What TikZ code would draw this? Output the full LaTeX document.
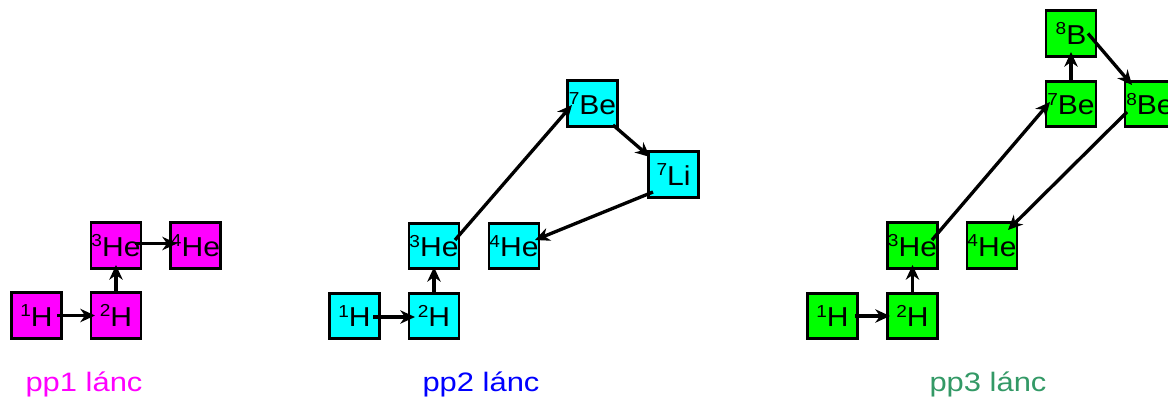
\documentclass[tikz,border=0pt]{standalone}
\usepackage{fontspec}
\setmainfont{Liberation Sans}
\usetikzlibrary{arrows.meta,calc}
\definecolor{ppone}{HTML}{FF00FF}
\definecolor{pptwo}{HTML}{0000FF}
\definecolor{ppthree}{HTML}{339966}
\definecolor{boxone}{HTML}{FF00FF}
\definecolor{boxtwo}{HTML}{00FFFF}
\definecolor{boxthree}{HTML}{00FF00}
\newcommand\iso[2]{\scalebox{1.1}[1]{\raisebox{7pt}{\fontsize{13}{13}\selectfont #1}#2}}
\newcommand\wide[1]{\scalebox{1.16}[1]{#1}}
\begin{document}
\begin{tikzpicture}[x=0.75pt,y=-0.75pt,
  nuc/.style={draw=black,line width=2.1pt,minimum width=37.5pt,minimum height=34pt,inner sep=0pt,
    font=\fontsize{20.5}{21}\selectfont},
  n1/.style={nuc,fill=boxone},
  n2/.style={nuc,fill=boxtwo},
  n3/.style={nuc,fill=boxthree},
  rx/.style={line width=2.5pt,-{Stealth[length=11pt,width=10pt,inset=3.5pt]}},
  lab/.style={font=\fontsize{20}{22}\selectfont,anchor=base}]
\useasboundingbox (0,0) rectangle (1168,397);
% pp1
\node[n1] (a1) at (36.5,315.5) {\iso{1}{H}};
\node[n1] (a2) at (116,315.5) {\iso{2}{H}};
\node[n1] (a3) at (116,245.5) {\iso{3}{He}};
\node[n1] (a4) at (195.5,245.5) {\iso{4}{He}};
\draw[rx] ($(a1)+(20.5,0)$) -- ($(a2)+(-21,0)$);
\draw[rx] (a2.north) -- ($(a3)+(0,19.5)$);
\draw[rx] ($(a3)+(19,-2)$) -- ($(a4)+(-18.5,-2)$);
\node[lab,text=ppone] (l1) at (84,391) {\wide{pp1 lánc}};
% pp2
\node[n2] (b1) at (354.5,316) {\iso{1}{H}};
\node[n2] (b2) at (434,316) {\iso{2}{H}};
\node[n2] (b3) at (434,246) {\iso{3}{He}};
\node[n2] (b4) at (514,246) {\iso{4}{He}};
\node[n2] (b5) at (592.5,103.5) {\iso{7}{Be}};
\node[n2] (b6) at (673.5,174.5) {\iso{7}{Li}};
\draw[rx] ($(b1)+(18.5,1)$) -- ($(b2)+(-19,1)$);
\draw[rx] (b2.north) -- ($(b3)+(0,21)$);
\draw[rx] ($(b3)+(21,-6)$) -- ($(b5)+(-20.5,1.5)$);
\draw[rx] ($(b5)+(20.5,21.5)$) -- ($(b6)+(-23.5,-17.5)$);
\draw[rx] ($(b6)+(-20.5,17.5)$) -- ($(b4)+(21,-6)$);
\node[lab,text=pptwo] (l2) at (481,391) {\wide{pp2 lánc}};
% pp3
\node[n3] (c1) at (832.5,316) {\iso{1}{H}};
\node[n3] (c2) at (912.5,316) {\iso{2}{H}};
\node[n3] (c3) at (912.5,245.5) {\iso{3}{He}};
\node[n3] (c4) at (992,245.5) {\iso{4}{He}};
\node[n3] (c5) at (1071,104) {\iso{7}{Be}};
\node[n3] (c6) at (1071,33.5) {\iso{8}{B}};
\node[n3] (c7) at (1150,104) {\iso{8}{Be}};
\draw[rx] ($(c1)+(22.5,0)$) -- ($(c2)+(-22.5,0)$);
\draw[rx] (c2.north) -- ($(c3)+(0,19.5)$);
\draw[rx] ($(c3)+(19.5,-5.5)$) -- ($(c5)+(-21,-2)$);
\draw[rx] (c5.north) -- ($(c6)+(0,18.5)$);
\draw[rx] ($(c6)+(17,0)$) -- ($(c7)+(-18,-19)$);
\draw[rx] ($(c7)+(-23,8)$) -- ($(c4)+(16,-15.5)$);
\node[lab,text=ppthree] (l3) at (988,391) {\wide{pp3 lánc}};
\end{tikzpicture}
\end{document}
